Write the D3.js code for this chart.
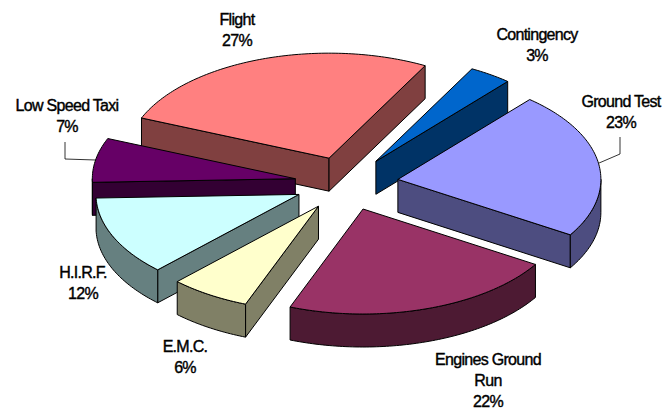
<!DOCTYPE html>
<html>
<head>
<meta charset="utf-8">
<script src="https://cdn.jsdelivr.net/npm/d3@7"></script>
<style>
  html, body { margin: 0; padding: 0; background: #fff; overflow: hidden; }
  text { font-family: "Liberation Sans", Arial, sans-serif; font-size: 16px; fill: #000; letter-spacing: -0.7px; stroke: #000; stroke-width: 0.4px; }
</style>
</head>
<body>
<svg id="chart" width="662" height="410"></svg>
<script>
// data, clockwise from Flight
var categories = ["Flight", "Contingency", "Ground Test", "Engines Ground Run", "E.M.C.", "H.I.R.F.", "Low Speed Taxi"];
var shares = [26.6, 3.4, 22.6, 22.0, 6.4, 12.2, 6.8];
var labelLines = [["Flight"], ["Contingency"], ["Ground Test"], ["Engines Ground", "Run"], ["E.M.C."], ["H.I.R.F."], ["Low Speed Taxi"]];

// styling and layout, separate from the data
var topColors = ["#FF8080", "#0066CC", "#9999FF", "#993366", "#FFFFCC", "#CCFFFF", "#660066"];
var labelAnchors = [[237, 25], [537, 40], [621, 107], [488, 364.5], [185, 352], [83, 278], [67, 111]];
var leaderTargets = [null, null, [620, 137], null, null, null, [65, 142]];

var cx = 346.5, cy = 183.5;
var rx = 203, ry = 105;
var depth = 33;
var explode = 52;
var firstAngle = -67.5 * Math.PI / 180;

var svg = d3.select("#chart");

var pie = d3.pie().sort(null).startAngle(firstAngle).endAngle(firstAngle + 2 * Math.PI);
var arcs = pie(shares).map(function(d, i) {
  var mid = (d.startAngle + d.endAngle) / 2;
  return {
    i: i,
    start: d.startAngle,
    end: d.endAngle,
    mid: mid,
    ox: cx + (explode * Math.sin(mid)),
    oy: cy - (explode * (ry / rx) * Math.cos(mid))
  };
});

var line = d3.line();

function rimPoint(a, t, drop) {
  return [a.ox + rx * Math.sin(t), a.oy - ry * Math.cos(t) + drop];
}

function rimPoints(a, from, to, drop) {
  var n = Math.max(2, Math.ceil((to - from) * 60));
  return d3.range(n + 1).map(function(k) {
    return rimPoint(a, from + (to - from) * k / n, drop);
  });
}

function halfColor(c) {
  var r = d3.rgb(c);
  return d3.rgb(r.r / 2, r.g / 2, r.b / 2).formatHex();
}

function drawFace(pts, fill) {
  svg.append("path")
    .attr("d", line(pts) + "Z")
    .attr("fill", fill)
    .attr("stroke", "#000")
    .attr("stroke-width", 1)
    .attr("stroke-linejoin", "round");
}

function drawRadial(a, t, fill) {
  var rim = rimPoint(a, t, 0);
  drawFace([[a.ox, a.oy], rim, [rim[0], rim[1] + depth], [a.ox, a.oy + depth]], fill);
}

// back slices first so the front ones paint over them
var order = d3.sort(arcs, function(a) { return -Math.cos(a.mid); });

order.forEach(function(a) {
  var side = halfColor(topColors[a.i]);

  if (Math.sin(a.start) < 0) drawRadial(a, a.start, side);
  if (Math.sin(a.end) > 0) drawRadial(a, a.end, side);

  // outer wall, only the part that faces the viewer
  [-2 * Math.PI, 0, 2 * Math.PI].forEach(function(shift) {
    var from = Math.max(a.start, shift + Math.PI / 2);
    var to = Math.min(a.end, shift + 3 * Math.PI / 2);
    if (to > from) {
      var upper = rimPoints(a, from, to, 0);
      var lower = rimPoints(a, from, to, depth).reverse();
      drawFace(upper.concat(lower), side);
    }
  });

  var top = [[a.ox, a.oy]].concat(rimPoints(a, a.start, a.end, 0));
  drawFace(top, topColors[a.i]);
});

// leader lines
arcs.forEach(function(a) {
  var target = leaderTargets[a.i];
  if (!target) return;
  var from = rimPoint(a, a.mid, 0);
  var elbow = [target[0], target[1] + 17];
  svg.append("path")
    .attr("d", line([from, elbow, target]))
    .attr("fill", "none")
    .attr("stroke", "#000")
    .attr("stroke-width", 0.8);
});

// labels
var total = d3.sum(shares);
var lineGap = 21;
categories.forEach(function(name, i) {
  var rows = labelLines[i].concat([Math.round(shares[i] / total * 100) + "%"]);
  var t = svg.append("text")
    .attr("text-anchor", "middle")
    .attr("x", labelAnchors[i][0])
    .attr("y", labelAnchors[i][1]);
  rows.forEach(function(r, k) {
    t.append("tspan")
      .attr("x", labelAnchors[i][0])
      .attr("dy", k == 0 ? 0 : lineGap)
      .text(r);
  });
});
</script>
</body>
</html>
